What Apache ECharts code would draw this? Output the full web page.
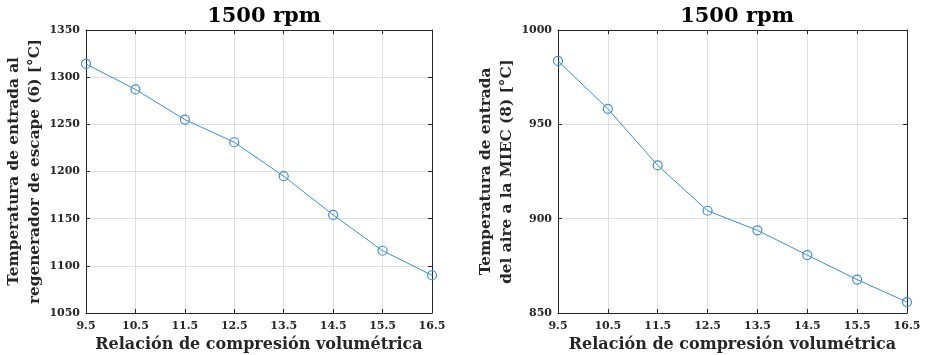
<!DOCTYPE html>
<html>
<head>
<meta charset="utf-8">
<script src="https://cdn.jsdelivr.net/npm/echarts@6/dist/echarts.min.js"></script>
<style>
  html, body { margin: 0; padding: 0; background: #fff; }
  #chart { width: 926px; height: 355px; }
</style>
</head>
<body>
<div id="chart"></div>
<script>
// Compression ratios (shared x categories)
const compressionRatios = ['9.5', '10.5', '11.5', '12.5', '13.5', '14.5', '15.5', '16.5'];

// Exhaust regenerator inlet temperature (6) [°C]
const exhaustRegenTemp = [1314, 1287, 1255, 1231, 1195, 1154, 1116, 1090];

// Air inlet temperature to the engine (8) [°C]
const airInletTemp = [983.6, 958.2, 928.2, 904.2, 893.8, 880.7, 867.7, 855.8];

const chartTitle = '1500 rpm';
const xTitle = 'Relación de compresión volumétrica';
const yTitleLeft = 'Temperatura de entrada al\nregenerador de escape (6) [°C]';
const yTitleRight = 'Temperatura de entrada\ndel aire a la MIEC (8) [°C]';
const yRangeLeft = [1050, 1350];
const yRangeRight = [850, 1000];
const yStep = 50;

const FONT = 'DejaVu Serif';
const TEXT = '#262626';
const AXIS = '#262626';
const GRID = '#dfdfdf';
const LINE = '#3a8fd3';

const chart = echarts.init(document.getElementById('chart'));

function xAxes(gridIndex) {
  return [
    {
      type: 'category', gridIndex, position: 'bottom', data: compressionRatios,
      boundaryGap: false,
      axisLine: { lineStyle: { color: AXIS, width: 1 } },
      axisTick: { inside: true, length: 4, lineStyle: { color: AXIS } },
      axisLabel: { color: TEXT, fontFamily: FONT, fontWeight: 'bold', fontSize: 11, margin: 8 },
      splitLine: { show: true, lineStyle: { color: GRID, width: 1 } },
      name: xTitle, nameLocation: 'middle', nameGap: 21,
      nameTextStyle: { color: TEXT, fontFamily: FONT, fontWeight: 'bold', fontSize: 16 }
    },
    {
      type: 'category', gridIndex, position: 'top', data: compressionRatios,
      boundaryGap: false,
      axisLine: { lineStyle: { color: AXIS, width: 1 } },
      axisTick: { inside: true, length: 4, lineStyle: { color: AXIS } },
      axisLabel: { show: false }, splitLine: { show: false }
    }
  ];
}

function yAxes(gridIndex, range, name, gap) {
  return [
    {
      type: 'value', gridIndex, position: 'left', min: range[0], max: range[1], interval: yStep,
      axisLine: { show: true, lineStyle: { color: AXIS, width: 1 } },
      axisTick: { show: true, inside: true, length: 4, lineStyle: { color: AXIS } },
      axisLabel: { color: TEXT, fontFamily: FONT, fontWeight: 'bold', fontSize: 11, margin: 6,
                   formatter: v => String(v) },
      splitLine: { show: true, lineStyle: { color: GRID, width: 1 } },
      name: name, nameLocation: 'middle', nameGap: gap, nameRotate: 90,
      nameTextStyle: { color: TEXT, fontFamily: FONT, fontWeight: 'bold', fontSize: 15.3, lineHeight: 21 }
    },
    {
      type: 'value', gridIndex, position: 'right', min: range[0], max: range[1], interval: yStep,
      axisLine: { show: true, lineStyle: { color: AXIS, width: 1 } },
      axisTick: { show: true, inside: true, length: 4, lineStyle: { color: AXIS } },
      axisLabel: { show: false }, splitLine: { show: false }
    }
  ];
}

function lineSeries(idx, data) {
  return {
    type: 'line', xAxisIndex: idx * 2, yAxisIndex: idx * 2, data: data,
    symbol: 'circle', symbolSize: 9, showAllSymbol: true,
    lineStyle: { color: LINE, width: 1 },
    itemStyle: { color: 'rgba(255,255,255,0)', borderColor: LINE, borderWidth: 1.2 },
    emphasis: { disabled: true }, animation: false
  };
}

chart.setOption({
  animation: false,
  title: [
    { text: chartTitle, left: 259, top: 1, textAlign: 'center',
      textStyle: { color: '#000', fontFamily: FONT, fontWeight: 'bold', fontSize: 21 } },
    { text: chartTitle, left: 732, top: 1, textAlign: 'center',
      textStyle: { color: '#000', fontFamily: FONT, fontWeight: 'bold', fontSize: 21 } }
  ],
  grid: [
    { left: 86, top: 30, width: 346, height: 283, outerBoundsMode: 'none' },
    { left: 558, top: 30, width: 349, height: 283, outerBoundsMode: 'none' }
  ],
  xAxis: [...xAxes(0), ...xAxes(1)],
  yAxis: [...yAxes(0, yRangeLeft, yTitleLeft, 35), ...yAxes(1, yRangeRight, yTitleRight, 29)],
  series: [lineSeries(0, exhaustRegenTemp), lineSeries(1, airInletTemp)]
});
</script>
</body>
</html>
